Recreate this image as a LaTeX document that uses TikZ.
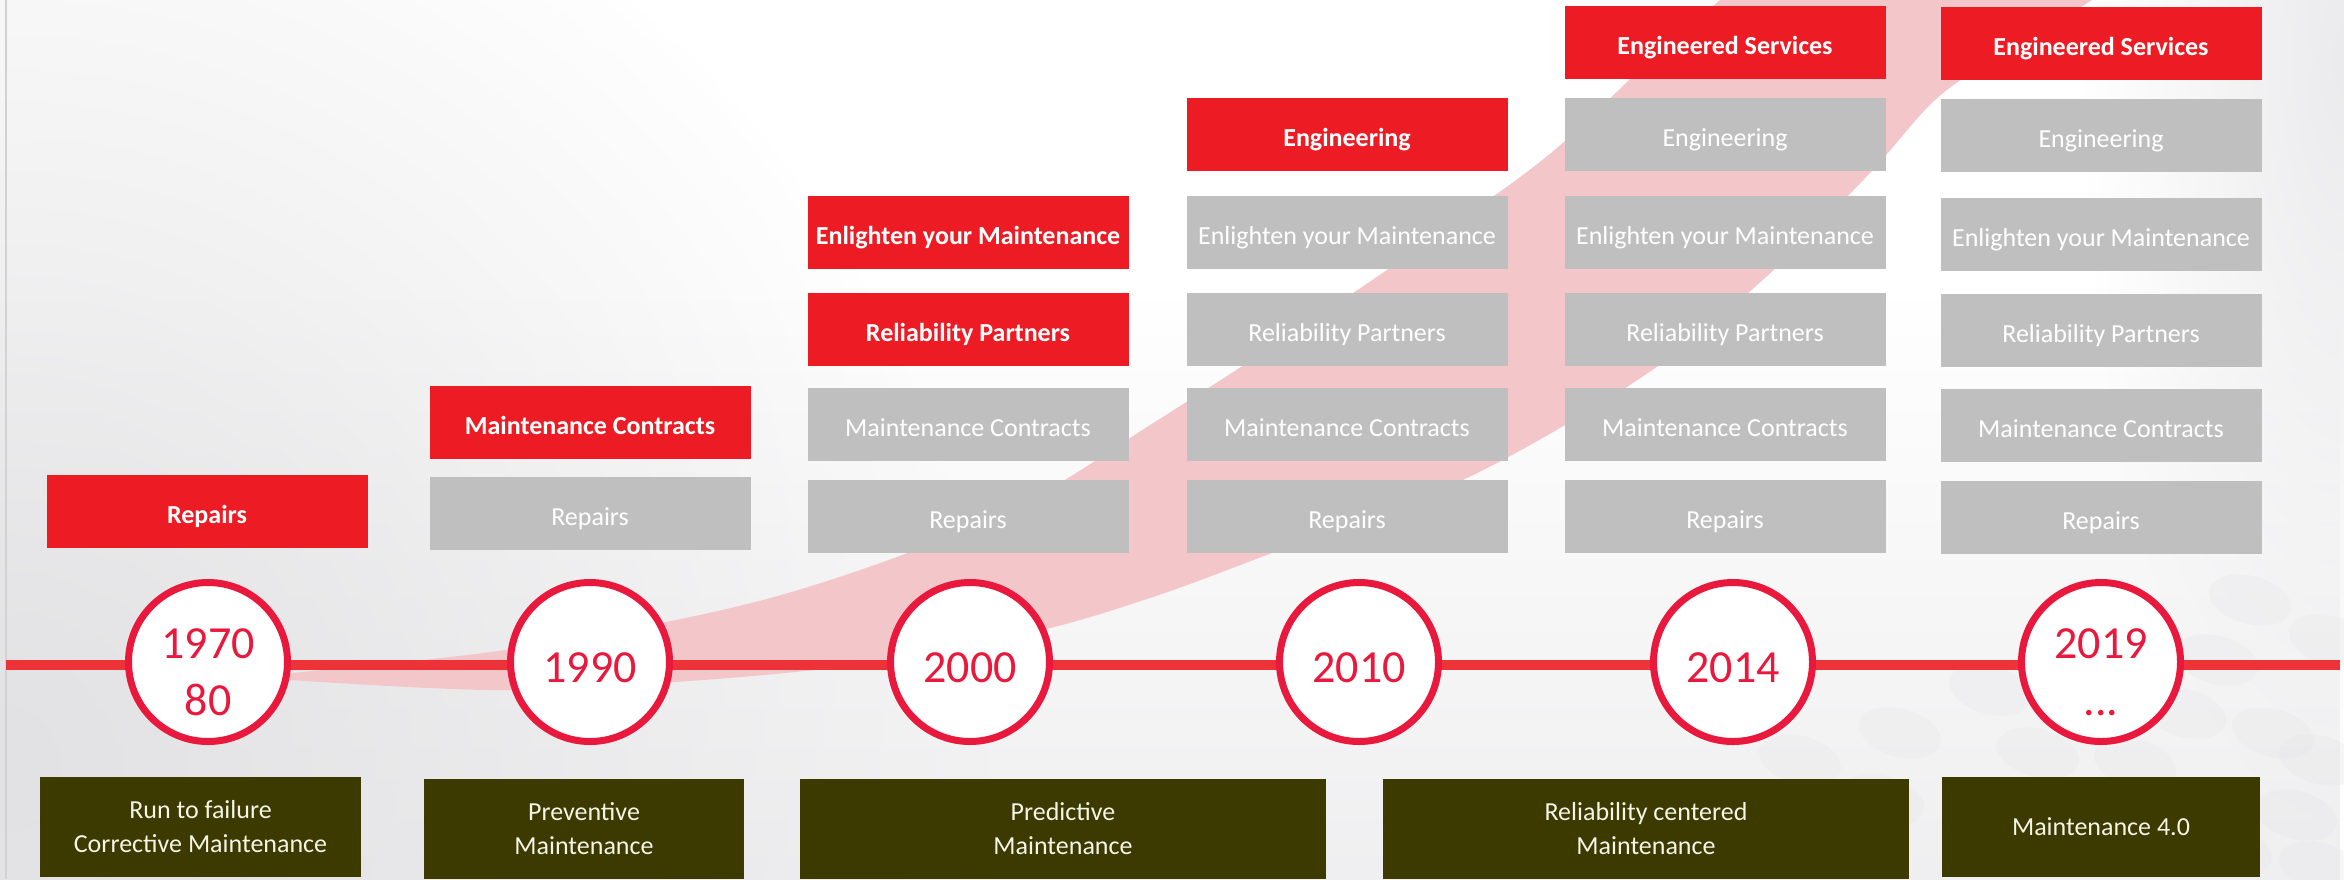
\documentclass[tikz,border=0pt]{standalone}
\usepackage{fontspec}
\setmainfont{Carlito}
\usetikzlibrary{fadings}
\definecolor{boxred}{HTML}{ED1C24}
\definecolor{boxgray}{HTML}{BFBFBF}
\definecolor{circred}{HTML}{E8193C}
\definecolor{linered}{HTML}{EE3338}
\definecolor{olivebox}{HTML}{3D3A00}
\definecolor{olivetext}{HTML}{F4F4E8}
\definecolor{swooshpink}{HTML}{F3C7C9}
\definecolor{bgbot}{HTML}{EBEBED}
\definecolor{bgleft}{HTML}{E2E2E4}
\definecolor{dotgray}{HTML}{E6E6E8}
\tikzfading[name=radfade, inner color=transparent!0, outer color=transparent!100]
\tikzfading[name=fadeup, top color=transparent!100, bottom color=transparent!0]
\tikzset{
  stagebox/.style={minimum width=321pt, minimum height=73pt, inner sep=0pt,
    text height=25pt, text depth=2pt, text=white},
  hot/.style={stagebox, fill=boxred, font=\fontsize{26}{31}\selectfont\bfseries},
  past/.style={stagebox, fill=boxgray, font=\fontsize{26}{31}\selectfont},
  era/.style={fill=olivebox, text=olivetext, inner sep=0pt, minimum height=100pt,
    align=center, font=\fontsize{26}{34}\selectfont},
  yearcirc/.style={circle, draw=circred, line width=7pt, fill=white,
    minimum size=159pt, inner sep=0pt},
  yeartxt/.style={text=circred, font=\fontsize{46}{57}\selectfont, inner sep=0pt, anchor=base},
  timeline/.style={draw=linered, line width=10pt},
  bgdot/.style={fill=dotgray, opacity=0.3},
}
\begin{document}
\begin{tikzpicture}[x=1pt,y=-1pt]
\useasboundingbox (0,0) rectangle (2344,879);
\begin{scope}
\clip (0,0) rectangle (2344,879);
% background
\fill[white] (0,0) rectangle (2344,879);
\fill[bgbot, path fading=fadeup] (0,300) rectangle (2344,1040);
\fill[bgleft, path fading=radfade] (0,760) ellipse [x radius=1000, y radius=1000];
\fill[bgbot, path fading=radfade] (2344,60) ellipse [x radius=260, y radius=760];
% faint dots bottom right
\foreach \px/\py in {1900/733,1883/800,2038/753,2135/763,2185/713,2217/660,2273/733,2320/760,2296/815,2320/867,2230/850,2100/840,1990/690,2330/640,2250/600,1800/760,1720/720}
  \fill[bgdot, rotate around={-15:(\px,\py)}] (\px,\py) ellipse [x radius=42, y radius=24];
% swoosh
\fill[swooshpink] plot[smooth, tension=0.55] coordinates {(280,674) (519,648) (774,597) (1000,515) (1158,420) (1350,295) (1536,165) (1640,70) (1720,0) (1770,-45)}
  -- plot[smooth, tension=0.55] coordinates {(2150,-45) (2092,0) (2000,55) (1935,100) (1869,174) (1766,277) (1645,375) (1467,478) (1272,553) (1150,598) (1029,633) (838,667) (646,684) (487,690) (289,680)} -- cycle;
\end{scope}
% left border
\coordinate (bt) at (6,0);
\coordinate (bb) at (6,879);
\draw[gray!35, line width=1.5pt] (bt) -- (bb);

% timeline
\coordinate (lstart) at (6,665);
\coordinate (lend) at (2340,665);
\draw[timeline] (lstart) -- (lend);

% circles
\node[yearcirc] (c1) at (208,662) {};
\node[yearcirc] (c2) at (590,662) {};
\node[yearcirc] (c3) at (970,662) {};
\node[yearcirc] (c4) at (1359,662) {};
\node[yearcirc] (c5) at (1733,662) {};
\node[yearcirc] (c6) at (2101,662) {};
\node[yeartxt] (t1a) at (208,658) {1970};
\node[yeartxt] (t1b) at (208,715) {80};
\node[yeartxt] (t2) at (590,682) {1990};
\node[yeartxt] (t3) at (970,682) {2000};
\node[yeartxt] (t4) at (1359,682) {2010};
\node[yeartxt] (t5) at (1733,682) {2014};
\node[yeartxt] (t6a) at (2101,658) {2019};
\node[yeartxt] (t6b) at (2101,715) {...};

% column 1
\node[hot] (a1) at (207,511.5) {Repairs};
% column 2
\node[hot]  (b2) at (590,422.5) {Maintenance Contracts};
\node[past] (b1) at (590,513.5) {Repairs};
% column 3
\node[hot]  (d4) at (968,232.5) {Enlighten your Maintenance};
\node[hot]  (d3) at (968,329.5) {Reliability Partners};
\node[past] (d2) at (968,424.5) {Maintenance Contracts};
\node[past] (d1) at (968,516.5) {Repairs};
% column 4
\node[hot]  (e5) at (1347,134.5) {Engineering};
\node[past] (e4) at (1347,232.5) {Enlighten your Maintenance};
\node[past] (e3) at (1347,329.5) {Reliability Partners};
\node[past] (e2) at (1347,424.5) {Maintenance Contracts};
\node[past] (e1) at (1347,516.5) {Repairs};
% column 5
\node[hot]  (f6) at (1725,42.5) {Engineered Services};
\node[past] (f5) at (1725,134.5) {Engineering};
\node[past] (f4) at (1725,232.5) {Enlighten your Maintenance};
\node[past] (f3) at (1725,329.5) {Reliability Partners};
\node[past] (f2) at (1725,424.5) {Maintenance Contracts};
\node[past] (f1) at (1725,516.5) {Repairs};
% column 6
\node[hot]  (g6) at (2101,43.5) {Engineered Services};
\node[past] (g5) at (2101,135.5) {Engineering};
\node[past] (g4) at (2101,234.5) {Enlighten your Maintenance};
\node[past] (g3) at (2101,330.5) {Reliability Partners};
\node[past] (g2) at (2101,425.5) {Maintenance Contracts};
\node[past] (g1) at (2101,517.5) {Repairs};

% eras
\node[era, minimum width=321pt] (p1) at (200.5,827) {Run to failure\\Corrective Maintenance};
\node[era, minimum width=320pt] (p2) at (584,829) {Preventive\\Maintenance};
\node[era, minimum width=526pt] (p3) at (1063,829) {Predictive\\Maintenance};
\node[era, minimum width=526pt] (p4) at (1646,829) {Reliability centered\\Maintenance};
\node[era, minimum width=318pt] (p5) at (2101,827) {Maintenance 4.0};
\end{tikzpicture}
\end{document}
